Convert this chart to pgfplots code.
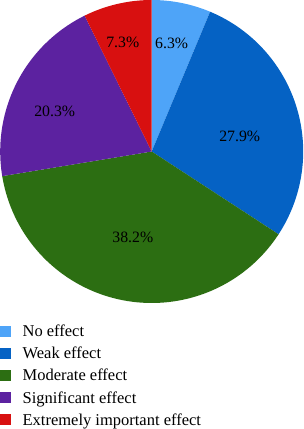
\documentclass[border=0pt]{standalone}
\usepackage{pgfplots}
\pgfplotsset{compat=1.18}
\usepackage{pgfplotstable}
\usepackage{fontspec}
\setmainfont{Liberation Serif}
\definecolor{cNo}{HTML}{4EA4F8}
\definecolor{cWeak}{HTML}{0562C4}
\definecolor{cMod}{HTML}{2C6E12}
\definecolor{cSig}{HTML}{5C22A0}
\definecolor{cExt}{HTML}{D81010}
\tikzset{pielabel/.style={font=\fontsize{15.8}{19}\selectfont, inner sep=0pt}}
\pgfplotstableread{
value
6.3
27.9
38.2
20.3
7.3
}\piedata
\begin{document}
\begin{tikzpicture}
\pgfplotstablegetelem{0}{value}\of\piedata\let\vA\pgfplotsretval
\pgfplotstablegetelem{1}{value}\of\piedata\let\vB\pgfplotsretval
\pgfplotstablegetelem{2}{value}\of\piedata\let\vC\pgfplotsretval
\pgfplotstablegetelem{3}{value}\of\piedata\let\vD\pgfplotsretval
\pgfplotstablegetelem{4}{value}\of\piedata\let\vE\pgfplotsretval
\pgfmathsetmacro\aO{90}
\pgfmathsetmacro\aA{\aO-3.6*\vA}
\pgfmathsetmacro\aB{\aA-3.6*\vB}
\pgfmathsetmacro\aC{\aB-3.6*\vC}
\pgfmathsetmacro\aD{\aC-3.6*\vD}
\pgfmathsetmacro\aE{\aD-3.6*\vE}
\useasboundingbox (0,0) rectangle (304pt,-429pt);
\begin{axis}[
  at={(0.2pt,0pt)}, anchor=north west,
  scale only axis, width=303pt, height=303pt,
  xmin=-1, xmax=1, ymin=-1, ymax=1,
  hide axis, clip=false,
  legend cell align=left,
  legend image code/.code={\fill[#1] (0pt,-5.3pt) rectangle (10.7pt,5.3pt);},
  legend style={draw=none, fill=none, inner sep=0pt, outer sep=0pt,
    at={(0,-0.0706)}, anchor=north west,
    font=\fontsize{16.5}{19}\selectfont,
    row sep=7.4pt,
    nodes={inner sep=0pt, text height=12.6pt, text depth=2pt},
    /tikz/every odd column/.style={column sep=11.7pt},
    /tikz/every even column/.style={column sep=0pt}},
]
\addplot[fill=cNo, draw=none, domain=\aA:\aO, samples=40] ({cos(x)},{sin(x)}) -- (axis cs:0,0) -- cycle;
\addlegendentry{No effect}
\addplot[fill=cWeak, draw=none, domain=\aB:\aA, samples=60] ({cos(x)},{sin(x)}) -- (axis cs:0,0) -- cycle;
\addlegendentry{Weak effect}
\addplot[fill=cMod, draw=none, domain=\aC:\aB, samples=80] ({cos(x)},{sin(x)}) -- (axis cs:0,0) -- cycle;
\addlegendentry{Moderate effect}
\addplot[fill=cSig, draw=none, domain=\aD:\aC, samples=60] ({cos(x)},{sin(x)}) -- (axis cs:0,0) -- cycle;
\addlegendentry{Significant effect}
\addplot[fill=cExt, draw=none, domain=\aE:\aD, samples=40] ({cos(x)},{sin(x)}) -- (axis cs:0,0) -- cycle;
\addlegendentry{Extremely important effect}
\node[pielabel] at (axis cs:0.132,0.713) {6.3\%};
\node[pielabel] at (axis cs:0.581,0.099) {27.9\%};
\node[pielabel] at (axis cs:-0.125,-0.568) {38.2\%};
\node[pielabel] at (axis cs:-0.640,0.264) {20.3\%};
\node[pielabel] at (axis cs:-0.191,0.719) {7.3\%};
\end{axis}
\end{tikzpicture}
\end{document}
